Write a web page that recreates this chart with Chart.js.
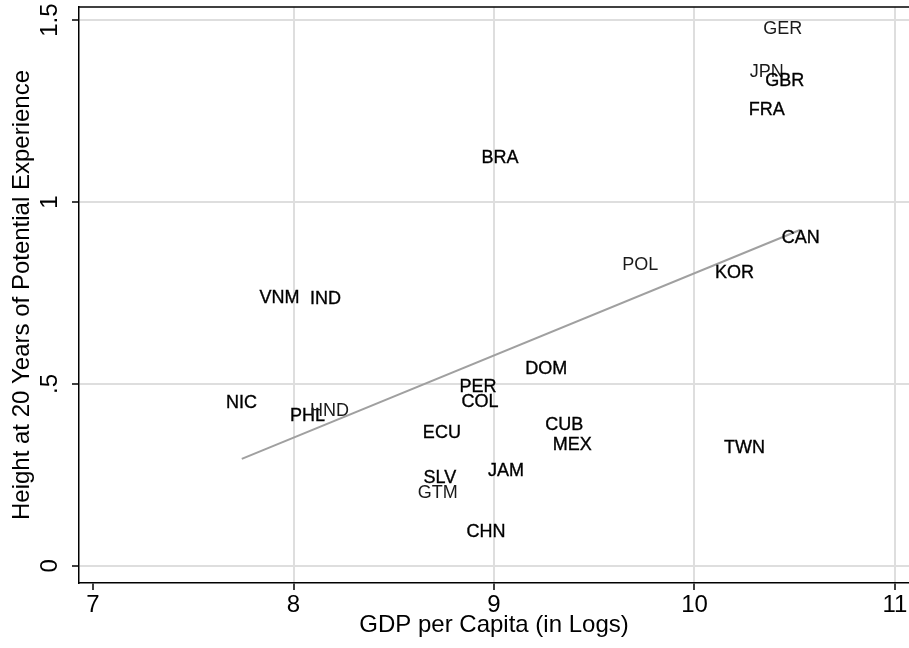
<!DOCTYPE html>
<html>
<head>
<meta charset="utf-8">
<script src="https://cdn.jsdelivr.net/npm/chart.js@4"></script>
<style>
  html, body { margin: 0; padding: 0; background: #fff; }
  #wrap { width: 909px; height: 648px; }
</style>
</head>
<body>
<div id="wrap"><canvas id="heightChart"></canvas></div>
<script>
// country codes with log GDP per capita (x) and height at 20 yrs of experience (y)
var countries = ['GER','JPN','GBR','FRA','BRA','CAN','POL','KOR','VNM','IND','DOM','PER',
                 'COL','NIC','PHL','HND','CUB','ECU','MEX','JAM','SLV','GTM','CHN','TWN'];
var gdpLog = [10.44, 10.36, 10.45, 10.36, 9.03, 10.53, 9.73, 10.20, 7.93, 8.16, 9.26, 8.92,
              8.93, 7.74, 8.07, 8.18, 9.35, 8.74, 9.39, 9.06, 8.73, 8.72, 8.96, 10.25];
var heightAt20 = [1.475, 1.357, 1.332, 1.253, 1.121, 0.901, 0.827, 0.805, 0.736, 0.734, 0.541, 0.492,
                  0.451, 0.448, 0.412, 0.426, 0.387, 0.365, 0.332, 0.261, 0.242, 0.201, 0.093, 0.324];

// linear fit end points
var fitX = [7.742, 10.526];
var fitY = [0.294, 0.923];

// axis ticks
var xTicks = [7, 8, 9, 10, 11];
var yTicks = [0, 0.5, 1, 1.5];
var yTickLabels = ['0', '.5', '1', '1.5'];

// labels drawn only once in the original (look lighter)
var lightLabels = ['GER', 'JPN', 'POL', 'HND', 'GTM'];

var points = [];
for (var i = 0; i < countries.length; i++) {
  points.push({ x: gdpLog[i], y: heightAt20[i], code: countries[i] });
}
var fitLine = fitX.map(function (x, i) { return { x: x, y: fitY[i] }; });

var FONT = '"Liberation Sans", Arial, sans-serif';

// draws country codes, the rotated y tick labels and the top frame line
var labelPlugin = {
  id: 'labels',
  afterDatasetsDraw: function (chart) {
    var ctx = chart.ctx;
    var xs = chart.scales.x, ys = chart.scales.y;
    ctx.save();
    ctx.font = '18px ' + FONT;
    ctx.textAlign = 'center';
    ctx.textBaseline = 'middle';
    points.forEach(function (p) {
      var px = xs.getPixelForValue(p.x);
      var py = ys.getPixelForValue(p.y);
      if (lightLabels.indexOf(p.code) >= 0) {
        ctx.fillStyle = '#1a1a1a';
        ctx.fillText(p.code, px, py);
      } else {
        ctx.fillStyle = '#000';
        ctx.strokeStyle = '#000';
        ctx.lineWidth = 0.35;
        ctx.fillText(p.code, px, py);
        ctx.strokeText(p.code, px, py);
      }
    });
    ctx.restore();
  },
  afterDraw: function (chart) {
    var ctx = chart.ctx;
    var ys = chart.scales.y;
    var area = chart.chartArea;
    ctx.save();
    ctx.font = '24px ' + FONT;
    ctx.fillStyle = '#000';
    ctx.textAlign = 'center';
    ctx.textBaseline = 'middle';
    yTicks.forEach(function (v, i) {
      ctx.save();
      ctx.translate(50, ys.getPixelForValue(v));
      ctx.rotate(-Math.PI / 2);
      ctx.fillText(yTickLabels[i], 0, 0);
      ctx.restore();
    });
    ctx.strokeStyle = '#000';
    ctx.lineWidth = 1.5;
    ctx.beginPath();
    ctx.moveTo(area.left, area.top);
    ctx.lineTo(area.right, area.top);
    ctx.stroke();
    ctx.restore();
  }
};

var ctx = document.getElementById('heightChart').getContext('2d');
var chart = new Chart(ctx, {
  type: 'scatter',
  data: {
    datasets: [{
      label: 'countries',
      data: points,
      pointRadius: 0,
      pointHoverRadius: 0
    }, {
      type: 'line',
      label: 'fit',
      data: fitLine,
      borderColor: '#a0a0a0',
      borderWidth: 2,
      pointRadius: 0,
      fill: false
    }]
  },
  options: {
    responsive: true,
    maintainAspectRatio: false,
    animation: false,
    layout: { padding: { top: 7, left: 0, right: 0, bottom: 0 } },
    plugins: {
      legend: { display: false },
      tooltip: { enabled: false }
    },
    scales: {
      x: {
        type: 'linear',
        min: 6.93,
        max: 11.07,
        afterBuildTicks: function (scale) {
          scale.ticks = xTicks.map(function (v) { return { value: v }; });
        },
        afterFit: function (scale) { scale.height = 65; },
        border: { display: true, color: '#000', width: 1.5 },
        grid: {
          color: function (c) { return c.tick && c.tick.value === 7 ? 'rgba(0,0,0,0)' : '#dedede'; },
          lineWidth: 2,
          tickColor: '#000',
          tickLength: 7,
          tickWidth: 1.5
        },
        ticks: {
          color: '#000',
          font: { family: FONT, size: 24 },
          padding: 1,
          maxRotation: 0
        },
        title: {
          display: true,
          text: 'GDP per Capita (in Logs)',
          color: '#000',
          font: { family: FONT, size: 24 },
          padding: { top: 0, bottom: 8 }
        }
      },
      y: {
        type: 'linear',
        min: -0.047,
        max: 1.536,
        afterBuildTicks: function (scale) {
          scale.ticks = yTicks.map(function (v) { return { value: v }; });
        },
        afterFit: function (scale) { scale.width = 79; },
        border: { display: true, color: '#000', width: 1.5 },
        grid: {
          color: '#dedede',
          lineWidth: 2,
          tickColor: '#000',
          tickLength: 7,
          tickWidth: 1.5
        },
        ticks: { display: false },
        title: {
          display: true,
          text: 'Height at 20 Years of Potential Experience',
          color: '#000',
          font: { family: FONT, size: 24 },
          padding: { top: 8, bottom: 0 }
        }
      }
    }
  },
  plugins: [labelPlugin]
});
</script>
</body>
</html>
